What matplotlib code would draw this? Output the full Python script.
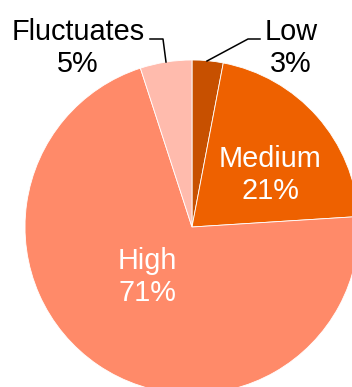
import matplotlib.pyplot as plt

plt.rcParams['font.family'] = ['Liberation Sans', 'DejaVu Sans']

# share of readings per level, clockwise from 12 o'clock
levels = ['Low', 'Medium', 'High', 'Fluctuates']
shares = [3, 21, 71, 5]
colors = ['#C75000', '#EE6100', '#FF8A69', '#FFBBAD']

W, H = 352, 387
CX, CY, R = 192, 227, 167  # pie centre and radius in pixels


def px(x, y):
    # pixel position (from top-left) -> data units with radius 1
    return (x - CX) / R, (CY - y) / R


fig = plt.figure(figsize=(W / 100, H / 100), dpi=100)
ax = fig.add_axes([0, 0, 1, 1])
ax.pie(shares, colors=colors, startangle=90, counterclock=False,
       radius=1, wedgeprops=dict(edgecolor='white', linewidth=0.6))
ax.set_xlim(-CX / R, (W - CX) / R)
ax.set_ylim(-(H - CY) / R, CY / R)
ax.set_aspect('equal')
ax.axis('off')

fs = 20.8
labels = {
    'Low': (291, 48, 'black'),
    'Medium': (270, 175, 'white'),
    'High': (147, 277, 'white'),
    'Fluctuates': (78, 48, 'black'),
}
for name, val in zip(levels, shares):
    x, y, c = labels[name]
    ax.text(*px(x, y), f'{name}\n{val}%', color=c, fontsize=fs,
            ha='center', va='center', linespacing=1.2)

# leader lines for the two thin slices
for pts in ([(150, 39), (163, 39), (166, 62)],
            [(207, 61), (248, 39), (260, 39)]):
    xs, ys = zip(*[px(x, y) for x, y in pts])
    ax.plot(xs, ys, color='black', lw=1.1)

fig.savefig('out.png', dpi=100)
